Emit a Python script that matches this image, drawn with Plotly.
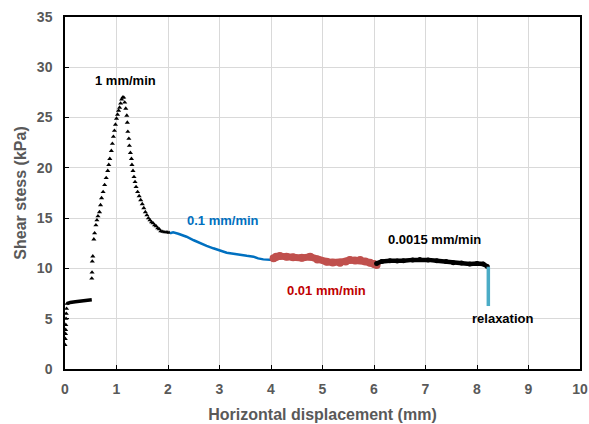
import plotly.graph_objects as go

# 1 mm/min stage (triangle markers)
fast_x = [0.0, 0.005, 0.01, 0.012, 0.015, 0.02, 0.025, 0.03, 0.04,
          0.52, 0.525, 0.53, 0.54, 0.56, 0.575, 0.6, 0.62, 0.64, 0.67, 0.69, 0.71, 0.74, 0.77, 0.8,
          0.83, 0.85, 0.87, 0.9, 0.92, 0.94, 0.96, 0.98, 1.0, 1.02, 1.04, 1.06, 1.08, 1.1, 1.12,
          1.14, 1.16, 1.18, 1.2, 1.21, 1.22, 1.24, 1.25, 1.27, 1.29, 1.3, 1.32, 1.34, 1.36, 1.38,
          1.41, 1.44, 1.47, 1.5, 1.53, 1.56, 1.59, 1.62, 1.65, 1.68, 1.71, 1.74, 1.77, 1.8, 1.83,
          1.86, 1.9, 1.94, 1.98, 2.02]
fast_y = [2.4, 3.0, 3.5, 3.9, 4.4, 5.0, 5.5, 6.0, 6.5,
          9.0, 9.6, 10.7, 11.2, 12.9, 13.5, 14.3, 14.8, 15.2, 15.6, 16.3, 17.0, 17.6, 18.3, 19.0,
          19.7, 20.3, 20.9, 21.7, 22.4, 23.1, 23.7, 24.3, 24.9, 25.3, 25.7, 26.0, 26.4, 26.8, 27.0,
          27.0, 26.5, 25.9, 25.2, 24.5, 23.6, 22.9, 22.2, 21.5, 20.9, 20.3, 19.7, 19.1, 18.6, 18.1,
          17.6, 17.2, 16.8, 16.4, 16.0, 15.6, 15.3, 15.0, 14.8, 14.6, 14.5, 14.3, 14.2, 14.0, 13.9,
          13.7, 13.65, 13.6, 13.6, 13.55]
# dense flat part at start of 1 mm/min stage
flat_x = [0.04, 0.1, 0.2, 0.3, 0.4, 0.52]
flat_y = [6.5, 6.62, 6.68, 6.75, 6.82, 6.88]

# 0.1 mm/min stage
s01_x = [2.04, 2.1, 2.2, 2.36, 2.5, 2.62, 2.75, 2.88, 3.0, 3.14, 3.27, 3.4, 3.53, 3.66, 3.75, 3.85, 3.95, 4.05]
s01_y = [13.5, 13.6, 13.45, 13.15, 12.8, 12.5, 12.25, 12.0, 11.8, 11.56, 11.45, 11.33, 11.25, 11.17, 11.0, 10.9, 10.85, 10.85]

# 0.01 mm/min stage
s001_x = [4.05, 4.1, 4.17, 4.3, 4.43, 4.6, 4.76, 4.9, 5.08, 5.2, 5.34, 5.45, 5.53, 5.63, 5.73, 5.83, 5.92, 6.0, 6.05]
s001_y = [11.0, 11.15, 11.23, 11.15, 11.1, 11.05, 11.15, 10.9, 10.67, 10.6, 10.57, 10.7, 10.83, 10.8, 10.83, 10.7, 10.57, 10.45, 10.34]

# 0.0015 mm/min stage
s0015_x = [6.05, 6.15, 6.31, 6.45, 6.57, 6.75, 6.89, 7.05, 7.22, 7.4, 7.54, 7.7, 7.86, 8.0, 8.12, 8.2]
s0015_y = [10.5, 10.7, 10.77, 10.75, 10.77, 10.85, 10.9, 10.85, 10.77, 10.68, 10.57, 10.55, 10.44, 10.48, 10.44, 10.2]

# relaxation
relax_x = [8.22, 8.22]
relax_y = [10.17, 6.26]

labels = ["1 mm/min", "0.1 mm/min", "0.01 mm/min", "0.0015 mm/min", "relaxation"]
label_x = [1.17, 3.06, 5.08, 7.17, 8.5]
label_y = [28.7, 14.75, 7.85, 12.9, 5.0]
label_col = ["#000000", "#0070C0", "#C00000", "#000000", "#000000"]

fig = go.Figure()
fig.add_trace(go.Scatter(x=flat_x, y=flat_y, mode="lines", line=dict(color="black", width=3.5)))
fig.add_trace(go.Scatter(x=fast_x, y=fast_y, mode="markers",
                         marker=dict(symbol="triangle-up", size=4.5, color="black")))
fig.add_trace(go.Scatter(x=s01_x, y=s01_y, mode="lines", line=dict(color="#0070C0", width=2.5)))
fig.add_trace(go.Scatter(x=s001_x, y=s001_y, mode="lines+markers",
                         line=dict(color="#C0504D", width=7),
                         marker=dict(color="#C0504D", size=8)))
fig.add_trace(go.Scatter(x=s0015_x, y=s0015_y, mode="lines+markers",
                         line=dict(color="black", width=4.5),
                         marker=dict(color="black", size=5)))
fig.add_trace(go.Scatter(x=relax_x, y=relax_y, mode="lines", line=dict(color="#4BACC6", width=3.5)))

for t, x, y, c in zip(labels, label_x, label_y, label_col):
    fig.add_annotation(x=x, y=y, text=t, showarrow=False,
                       font=dict(family="Arial", size=13, color=c, weight="bold"))

axis_common = dict(showline=True, linecolor="black", linewidth=1.5, mirror=True,
                   showgrid=True, gridcolor="#D9D9D9", gridwidth=1, zeroline=False,
                   ticks="inside", ticklen=4, tickcolor="black", automargin=False,
                   ticklabeloverflow="allow",
                   tickfont=dict(family="Arial", size=14, color="#595959", weight="bold"))

fig.update_layout(
    width=589, height=424,
    margin=dict(l=65, r=9, t=17, b=55),
    paper_bgcolor="white", plot_bgcolor="white",
    showlegend=False, hovermode=False,
    xaxis=dict(range=[0, 10], dtick=1, ticklabelstandoff=6,
               title=dict(text="Horizontal displacement (mm)", standoff=13,
                          font=dict(family="Arial", size=16, color="#595959", weight="bold")),
               **axis_common),
    yaxis=dict(range=[0, 35], dtick=5, ticklabelstandoff=8,
               title=dict(text="Shear stess (kPa)", standoff=6,
                          font=dict(family="Arial", size=16, color="#595959", weight="bold")),
               **axis_common),
)

fig.write_html("out.html", config={"displayModeBar": False},
               post_script="document.body.style.margin='0px';document.body.style.overflow='hidden';")
